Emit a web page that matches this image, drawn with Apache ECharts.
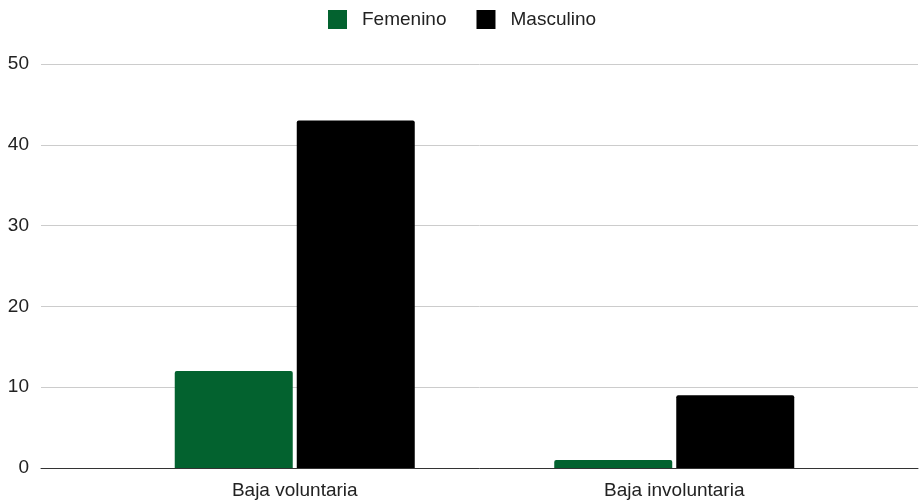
<!DOCTYPE html>
<html><head><meta charset="utf-8">
<script src="https://cdn.jsdelivr.net/npm/echarts@6/dist/echarts.min.js"></script>
<style>html,body{margin:0;padding:0;background:#fff}#c{width:920px;height:504px}</style>
</head><body><div id="c"></div>
<script>
const categories = ['Baja voluntaria', 'Baja involuntaria'];
const femenino = [12, 1];
const masculino = [43, 9];
const yTicks = [0, 10, 20, 30, 40, 50];

const font = 'Liberation Sans, Arial, sans-serif';
const chart = echarts.init(document.getElementById('c'), null, {renderer: 'canvas'});
chart.setOption({
  animation: false,
  legend: {
    top: 5, left: 323, itemWidth: 19, itemHeight: 19, itemGap: 30,
    icon: 'rect',
    textStyle: {fontFamily: font, fontSize: 19, color: '#222', padding: [0, 0, 0, 10]},
    data: ['Femenino', 'Masculino']
  },
  grid: [
    {left: 41, right: 2, top: 64, bottom: 36, containLabel: false},
    {left: 105, right: 56, top: 64, bottom: 36, containLabel: false}
  ],
  xAxis: [
    {gridIndex: 0, type: 'category', data: [''], axisTick: {show: false}, axisLabel: {show: false},
     axisLine: {lineStyle: {color: '#333', width: 1}}},
    {gridIndex: 1, type: 'category', data: categories, axisTick: {show: false}, axisLine: {show: false},
     axisLabel: {fontFamily: font, fontSize: 19, color: '#222', margin: 13}}
  ],
  yAxis: [
    {gridIndex: 0, type: 'value', min: yTicks[0], max: yTicks[yTicks.length - 1], interval: 10,
     axisLine: {show: false}, axisTick: {show: false},
     axisLabel: {fontFamily: font, fontSize: 19, color: '#222', margin: 12},
     splitLine: {lineStyle: {color: '#ccc', width: 1}}},
    {gridIndex: 1, type: 'value', min: yTicks[0], max: yTicks[yTicks.length - 1], interval: 10,
     show: false, splitLine: {show: false}}
  ],
  series: [
    {name: 'Femenino', type: 'bar', xAxisIndex: 1, yAxisIndex: 1, data: femenino,
     barWidth: 118, barGap: '3.4%', itemStyle: {color: '#03622f', borderRadius: [2, 2, 0, 0]}},
    {name: 'Masculino', type: 'bar', xAxisIndex: 1, yAxisIndex: 1, data: masculino,
     barWidth: 118, barGap: '3.4%', itemStyle: {color: '#000000', borderRadius: [2, 2, 0, 0]}}
  ]
});
</script></body></html>
